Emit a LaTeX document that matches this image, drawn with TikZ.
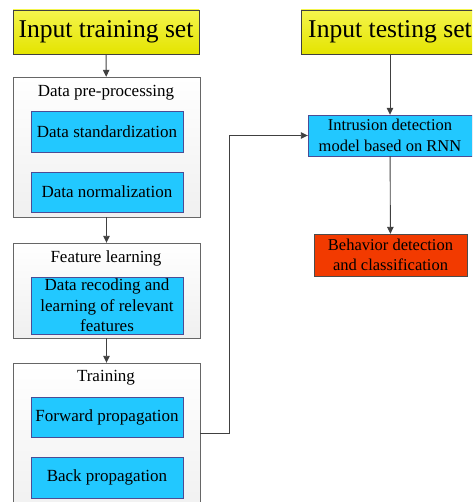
\documentclass[tikz,border=0pt]{standalone}
\usepackage{fontspec}
\setmainfont{Liberation Serif}
\usetikzlibrary{arrows.meta}

\definecolor{inyellow}{HTML}{F0F000}
\definecolor{stepcyan}{HTML}{22C8FF}
\definecolor{outred}{HTML}{F23A00}
\definecolor{linegray}{HTML}{404040}

\begin{document}
\begin{tikzpicture}[x=1pt,y=-1pt,
    inbox/.style={draw=linegray,top color=inyellow!70!white,bottom color=inyellow!95!black,
        minimum height=44pt,inner sep=0pt,font=\fontsize{25.6}{28}\selectfont},
    groupbox/.style={draw=linegray!80,top color=white,bottom color=gray!12,
        minimum width=187pt,inner sep=0pt},
    cyanbox/.style={draw=blue!40!black!70,fill=stepcyan,minimum width=152pt,inner sep=0pt,
        align=center,font=\fontsize{17}{20.5}\selectfont},
    title/.style={font=\fontsize{17}{20.5}\selectfont},
    flow/.style={draw=linegray,line width=0.9pt,-{Triangle[length=7pt,width=6.5pt]}}]
\clip (0,0) rectangle (472,502);

% training side
\node [inbox,minimum width=186pt]  (trainin) at (106,  32) {Input training set};
\node [groupbox,minimum height=140pt] (prep)  at (106.5,147) {};
\node [title]                      (preptitle) at (106, 93) {Data pre-processing};
\node [cyanbox,minimum height=41pt] (std)     at (107, 131.5) {Data standardization};
\node [cyanbox,minimum height=40pt] (norm)    at (107, 192) {Data normalization};

\node [groupbox,minimum height=95pt]  (feat)  at (106.5,290.5) {};
\node [title]                      (feattitle) at (106, 258) {Feature learning};
\node [cyanbox,minimum height=57pt] (recode)  at (107, 305.5)
    {Data recoding and\\ learning of relevant\\ features};

\node [groupbox,minimum height=157pt] (train) at (106.5,441.5) {};
\node [title]                      (traintitle) at (106, 378) {Training};
\node [cyanbox,minimum height=40pt] (fwd)     at (107, 417) {Forward propagation};
\node [cyanbox,minimum height=41pt] (back)    at (107, 477.5) {Back propagation};

% testing side
\node [inbox,minimum width=178pt]  (testin)  at (390,  32) {Input testing set};
\node [cyanbox,minimum width=164pt,minimum height=41pt,font=\fontsize{16.5}{20.5}\selectfont]
                                   (rnn)     at (390, 135.5)
    {Intrusion detection\\ model based on RNN};
\node [cyanbox,fill=outred,draw=black!70,minimum width=153pt,minimum height=42pt,
    font=\fontsize{16.5}{20.5}\selectfont]
                                   (behav)   at (390.5,255)
    {Behavior detection\\ and classification};

\coordinate (turn) at (229,433);

\draw [flow] (trainin) -- (prep);
\draw [flow] (prep) -- (feat);
\draw [flow] (feat) -- (train);
\draw [flow] (testin) -- (rnn);
\draw [flow] (rnn) -- (behav);
\draw [flow] (train.east |- turn) -- (turn) |- (rnn.west);
\end{tikzpicture}
\end{document}
